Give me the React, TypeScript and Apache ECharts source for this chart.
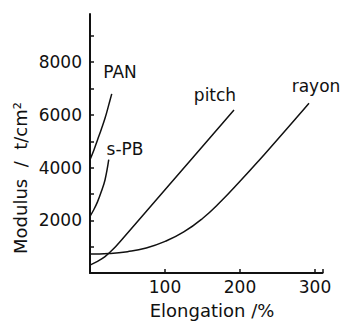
import React, { useEffect, useRef } from "react";
import * as echarts from "echarts";

// Elongation (%) vs Modulus (t/cm²)
const panData: [number, number][] = [
  [0, 4300], [5, 4650], [10, 5050], [15, 5450], [20, 5870], [25, 6380], [29, 6800],
];
const spbData: [number, number][] = [
  [0, 2150], [5, 2400], [10, 2700], [15, 3080], [20, 3530], [25, 4300],
];
const pitchData: [number, number][] = [
  [0, 300], [10, 440], [20, 620], [30, 880], [40, 1190], [100, 3160], [192, 6190],
];
const rayonData: [number, number][] = [
  [0, 720], [25, 740], [50, 810], [75, 950], [100, 1200], [125, 1560], [150, 2070],
  [175, 2730], [200, 3480], [225, 4260], [250, 5070], [275, 5880], [292, 6440],
];
const xTickLabels = [100, 200, 300];
const yTickLabels = [2000, 4000, 6000, 8000];
const seriesNames = ["PAN", "s-PB", "pitch", "rayon"];

const FONT = "DejaVu Sans";

export default function App() {
  const ref = useRef<HTMLDivElement>(null);
  useEffect(() => {
    if (!ref.current) return;
    const chart = echarts.init(ref.current, undefined, { renderer: "svg" });
    const lineStyle = { color: "#111", width: 1.5 };
    const mk = (name: string, data: [number, number][], smooth: boolean | number) => ({
      name,
      type: "line",
      data,
      smooth,
      showSymbol: false,
      symbol: "none",
      lineStyle,
    });
    const txt = (text: string, x: number, y: number, size: number, rotation = 0) => ({
      type: "text",
      x,
      y,
      rotation,
      style: {
        text,
        fontFamily: FONT,
        fontSize: size,
        fill: "#111",
        textAlign: "center",
        verticalAlign: "middle",
        textVerticalAlign: "middle",
      },
    });
    chart.setOption({
      animation: false,
      backgroundColor: "#fff",
      grid: { left: 90, top: 14, width: 232.5, height: 259 },
      xAxis: {
        type: "value",
        min: 0,
        max: 310,
        interval: 100,
        axisLine: { show: true, lineStyle: { color: "#111", width: 2 } },
        axisTick: { show: true, inside: true, length: 4, lineStyle: { color: "#111", width: 1.5 } },
        splitLine: { show: false },
        axisLabel: {
          color: "#111",
          fontFamily: FONT,
          fontSize: 17,
          margin: 5,
          formatter: (v: number) => (xTickLabels.includes(v) ? String(v) : ""),
        },
      },
      yAxis: {
        type: "value",
        min: 0,
        max: 9830,
        interval: 1000,
        axisLine: { show: true, lineStyle: { color: "#111", width: 2 } },
        axisTick: { show: true, inside: true, length: 4, lineStyle: { color: "#111", width: 1.5 } },
        splitLine: { show: false },
        axisLabel: {
          color: "#111",
          fontFamily: FONT,
          fontSize: 17,
          margin: 8,
          showMaxLabel: false,
          formatter: (v: number) => (yTickLabels.includes(v) ? String(v) : ""),
        },
      },
      series: [
        mk(seriesNames[0], panData, 0.4),
        mk(seriesNames[1], spbData, 0.4),
        mk(seriesNames[2], pitchData, 0.3),
        mk(seriesNames[3], rayonData, 0.5),
      ],
      graphic: [
        txt(seriesNames[0], 120, 72, 17),
        txt(seriesNames[1], 125, 149, 17),
        txt(seriesNames[2], 215, 95, 17),
        txt(seriesNames[3], 316, 86, 17),
        txt("Modulus  /  t/cm²", 20, 178, 18, Math.PI / 2),
        txt("Elongation /%", 212, 310, 18),
      ],
    });
    return () => chart.dispose();
  }, []);
  return (
    <div
      ref={ref}
      style={{ position: "absolute", left: 0, top: 0, width: 343, height: 324 }}
    />
  );
}
